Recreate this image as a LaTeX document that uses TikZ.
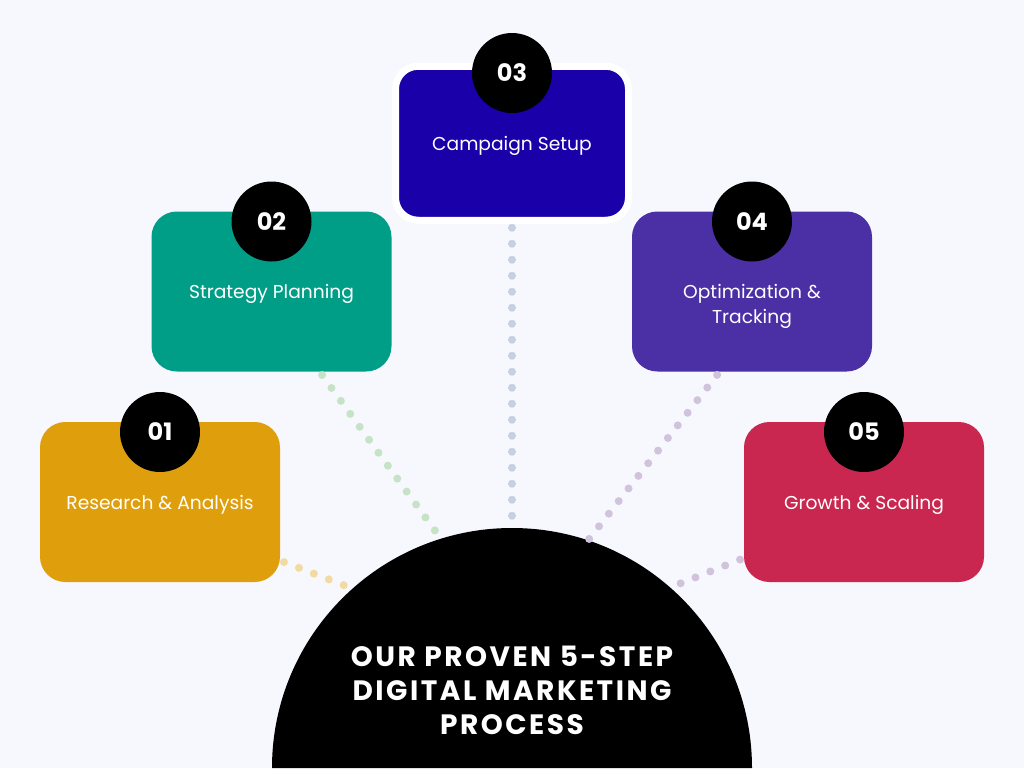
\documentclass[tikz,border=0pt]{standalone}
\usepackage{fontspec}
\setmainfont{Poppins}
\newfontfamily\titlefont{Poppins}[LetterSpace=9]
\usepackage{xcolor}
\usepackage{tikz}
\usetikzlibrary{positioning}
\definecolor{bgpage}{HTML}{F7F8FE}
\definecolor{gold}{HTML}{DF9E0B}
\definecolor{teal}{HTML}{009E86}
\definecolor{royal}{HTML}{1A00A9}
\definecolor{violet}{HTML}{4B2FA4}
\definecolor{crimson}{HTML}{C9274F}
\definecolor{dotgold}{HTML}{F1DBA2}
\definecolor{dotgreen}{HTML}{C6E3C6}
\definecolor{dotblue}{HTML}{C7D0DF}
\definecolor{dotpurple}{HTML}{D2C3DC}
\tikzset{
	stepbox/.style = {rectangle, fill=#1, rounded corners=19pt, minimum width=180pt, minimum height=120pt, inner sep=0pt},
	badge/.style = {circle, fill=black, minimum size=60pt, inner sep=0pt, text=white, font=\bfseries\fontsize{18}{20}\selectfont},
	steptext/.style = {text=white, align=center, inner sep=0pt, font=\fontsize{14}{18.75}\selectfont},
	dotline/.style = {draw=#1, line width=6pt, line cap=round, dash pattern=on 0pt off 12pt, shorten <=3pt},
	hubtext/.style = {text=white, align=center, inner sep=0pt, font=\titlefont\bfseries\fontsize{21}{25.5}\selectfont}
}

\begin{document}
\begin{tikzpicture}[x=0.75pt, y=-0.75pt, node distance=17pt]

	% page and the half disc at the bottom
	\useasboundingbox (0,0) rectangle (1024,768);
	\fill[bgpage] (0,0) rectangle (1024,768);
	\fill[black] (272,768) arc[start angle=180, end angle=360, radius=240] -- cycle;
	\node[hubtext] (title) at (512,690) {OUR PROVEN 5-STEP\\DIGITAL MARKETING\\PROCESS};

	% the five steps
	\node[stepbox=gold] (b1) at (160,502) {};
	\node[stepbox=teal] (b2) at (271.5,291.5) {};
	\node[stepbox=royal, minimum width=174.75pt, minimum height=115.5pt, rounded corners=17pt, draw=white, line width=5.25pt] (b3) at (512,143.25) {};
	\node[stepbox=violet] (b4) at (752,291.5) {};
	\node[stepbox=crimson] (b5) at (864,502) {};

	% number badges on top of each box
	\node[badge, below=-22.5pt of b1.north] (n1) {01};
	\node[badge, below=-22.5pt of b2.north] (n2) {02};
	\node[badge, below=-22.5pt of b3.north] (n3) {03};
	\node[badge, below=-22.5pt of b4.north] (n4) {04};
	\node[badge, below=-22.5pt of b5.north] (n5) {05};

	% step names
	\node[steptext, below=of n1] (t1) {Research \& Analysis};
	\node[steptext, below=of n2] (t2) {Strategy Planning};
	\node[steptext, below=of n3] (t3) {Campaign Setup};
	\node[steptext, below=of n4] (t4) {Optimization \&\\Tracking};
	\node[steptext, below=of n5] (t5) {Growth \& Scaling};

	% dotted connectors towards the half disc
	\coordinate (e1) at (346,586);
	\coordinate (e2) at (436,532);
	\coordinate (e3) at (512,516);
	\coordinate (e4) at (586,543);
	\coordinate (e5) at (674,586);
	\draw[dotline=dotgold] (b1.334) -- (e1);
	\draw[dotline=dotgreen] (b2.301) -- (e2);
	\draw[dotline=dotblue] (b3) -- (e3);
	\draw[dotline=dotpurple] (b4.248) -- (e4);
	\draw[dotline=dotpurple] (b5.205) -- (e5);

\end{tikzpicture}
\end{document}
